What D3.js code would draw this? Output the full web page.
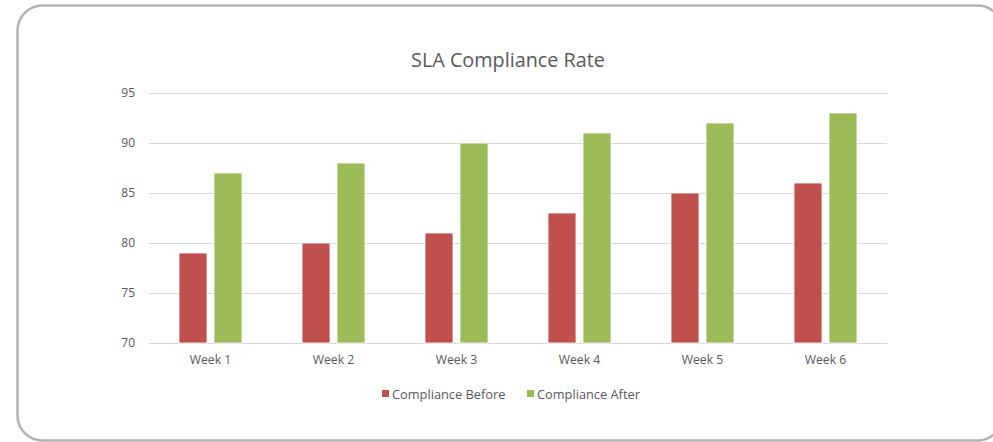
<!DOCTYPE html>
<html><head><meta charset="utf-8">
<script src="https://cdn.jsdelivr.net/npm/d3@7"></script>
<style>body{margin:0;background:#fff;}svg{display:block;}</style>
</head><body>
<svg id="c" width="993" height="442"></svg>
<script>
const categories = ["Week 1","Week 2","Week 3","Week 4","Week 5","Week 6"];
const seriesNames = ["Compliance Before","Compliance After"];
const before = [79, 80, 81, 83, 85, 86];
const after = [87, 88, 90, 91, 92, 93];
const yTicks = [70, 75, 80, 85, 90, 95];
const colors = ["#c0504d", "#9bbb59"];
const title = "SLA Compliance Rate";

(function(){
const font = "'Open Sans', sans-serif";
const svg = d3.select("#c");
svg.append("rect").attr("x",17.5).attr("y",5.5).attr("width",985).attr("height",435)
  .attr("rx",25).attr("fill","#fff").attr("stroke","#b3b3b3").attr("stroke-width",2.5);

const pl = 149, pr = 887, pt = 93, pb = 343;
const x = d3.scaleBand().domain(categories).range([pl, pr]);
const y = d3.scaleLinear().domain([70, 95]).range([pb, pt]);

svg.append("text").attr("x",508).attr("y",67).attr("text-anchor","middle")
  .attr("font-family",font).attr("font-size",19.8).attr("fill","#595959").text(title);

const gy = svg.append("g").attr("transform",`translate(${pl},0)`)
  .call(d3.axisLeft(y).tickValues(yTicks).tickSize(-(pr-pl)).tickPadding(14));
gy.select(".domain").remove();
gy.selectAll("line").attr("stroke","#d9d9d9");
gy.selectAll("text").attr("font-family",font).attr("font-size",12).attr("fill","#595959");

const gx = svg.append("g").attr("transform",`translate(0,${pb})`)
  .call(d3.axisBottom(x).tickSize(0).tickPadding(12));
gx.select(".domain").attr("stroke","#d9d9d9");
gx.selectAll("text").attr("font-family",font).attr("font-size",12.2).attr("fill","#595959");

const data = [before, after];
const offsets = [-17.5, 17.5];
const bw = 28;
data.forEach((vals, si) => {
  svg.append("g").selectAll("rect").data(vals).join("rect")
    .attr("x", (d,i) => x(categories[i]) + x.bandwidth()/2 + offsets[si] - bw/2)
    .attr("y", d => y(d))
    .attr("width", bw)
    .attr("height", d => y(70) - y(d))
    .attr("fill", colors[si])
    .attr("stroke","#fff").attr("stroke-width",0.8);
});

const leg = [{x:382, tx:392}, {x:527, tx:537}];
seriesNames.forEach((n, i) => {
  svg.append("rect").attr("x",leg[i].x).attr("y",390).attr("width",7).attr("height",7).attr("fill",colors[i]);
  svg.append("text").attr("x",leg[i].tx).attr("y",398.5).attr("font-family",font).attr("font-size",12.8)
    .attr("fill","#595959").text(n);
});
})();
</script>
</body></html>
